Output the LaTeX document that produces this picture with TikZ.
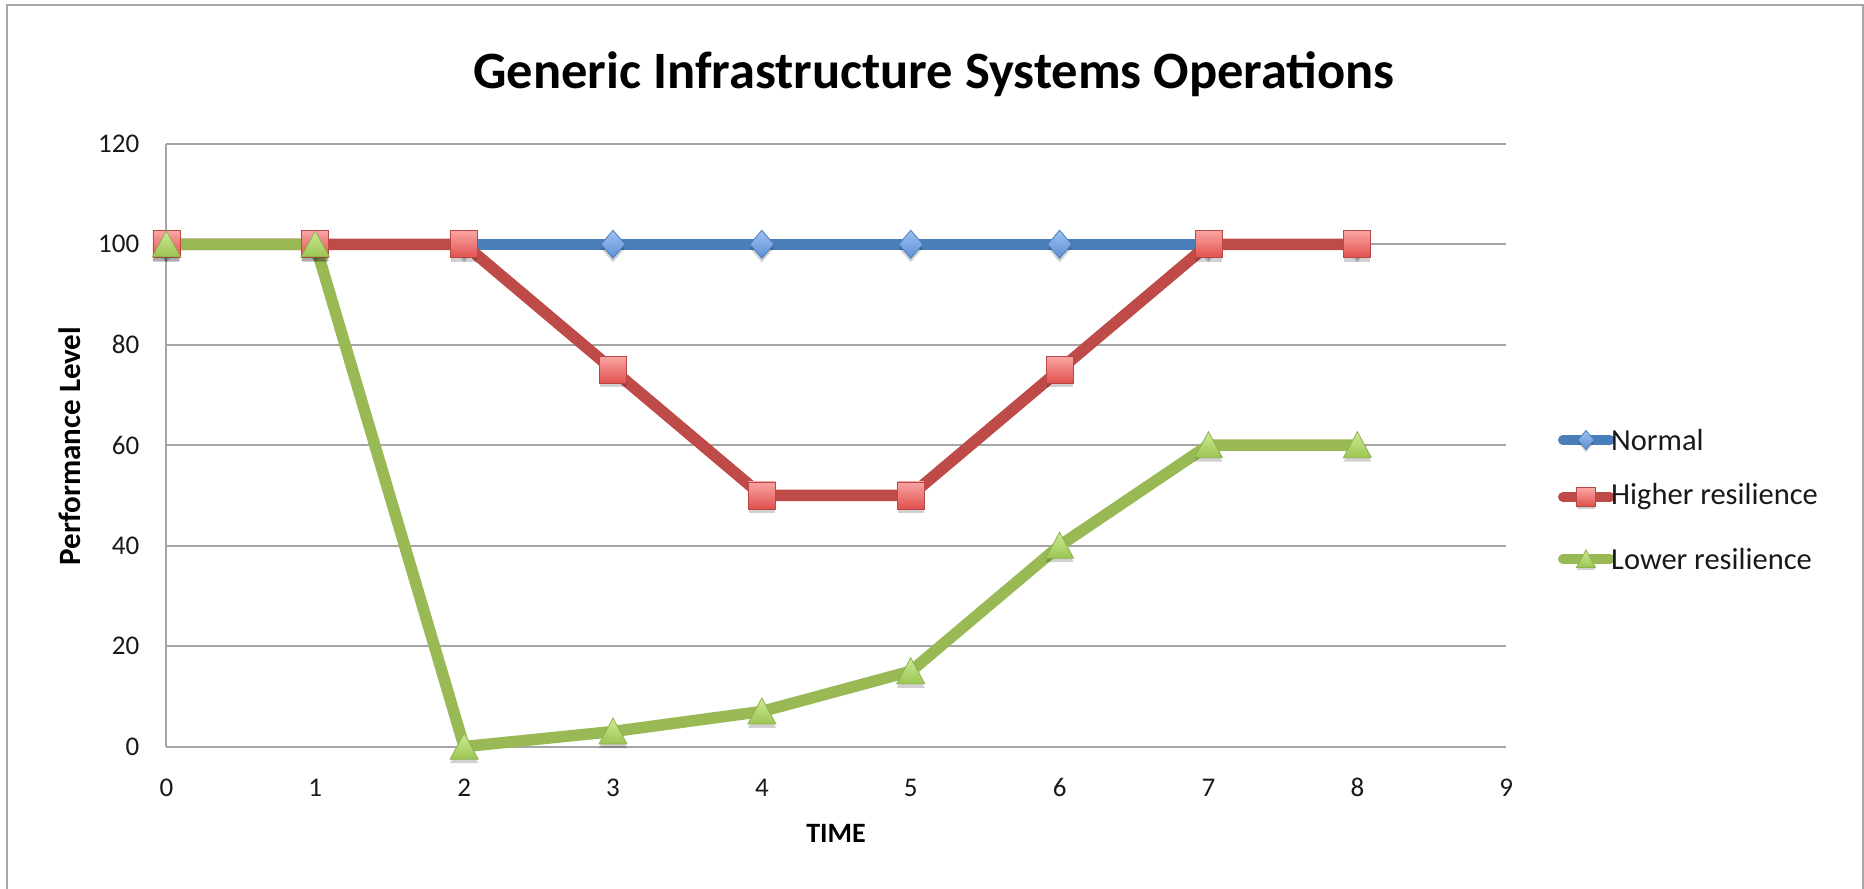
\documentclass[tikz,border=0pt]{standalone}
\usepackage{fontspec}
\setmainfont{Carlito}
\definecolor{blueL}{HTML}{4A7EBB}
\definecolor{redL}{HTML}{BE4B48}
\definecolor{greenL}{HTML}{98B954}
\definecolor{redT}{HTML}{F9A5A3}
\definecolor{redB}{HTML}{E0504D}
\definecolor{redE}{HTML}{B94745}
\definecolor{grnT}{HTML}{CDEA96}
\definecolor{grnB}{HTML}{9CC552}
\definecolor{grnE}{HTML}{8DB24E}
\definecolor{bluT}{HTML}{9DC1F0}
\definecolor{bluB}{HTML}{5E8FD6}
\definecolor{bluE}{HTML}{4A7EBB}
\definecolor{gridc}{HTML}{A5A5A5}
\definecolor{framec}{HTML}{A8A8A8}
\tikzset{
  gridline/.style={gridc, line width=2pt},
  serline/.style={line width=11.5pt, line join=round},
  legline/.style={line width=10pt, line cap=round},
  ticklab/.style={font=\fontsize{27}{30}\selectfont, text=black!90},
  axlab/.style={font=\fontsize{28}{32}\selectfont\bfseries},
  legtext/.style={font=\fontsize{30.5}{34}\selectfont, text=black!90, anchor=west, inner sep=0pt},
  sqmark/.pic={
    \fill[black,opacity=.18] (-13pt,-17.5pt) rectangle (13pt,9.5pt);
    \draw[redE,line width=0.8pt,top color=redT,bottom color=redB] (-13.5pt,-13.5pt) rectangle (13.5pt,13.5pt);},
  dmmark/.pic={
    \fill[black,opacity=.18] (0pt,10pt)--(12pt,-4pt)--(0pt,-18pt)--(-12pt,-4pt)--cycle;
    \draw[bluE,line width=0.8pt,top color=bluT,bottom color=bluB] (0pt,14pt)--(12pt,0pt)--(0pt,-14pt)--(-12pt,0pt)--cycle;},
  trmark/.pic={
    \fill[black,opacity=.18] (0pt,9.5pt)--(14pt,-16.5pt)--(-14pt,-16.5pt)--cycle;
    \draw[grnE,line width=0.8pt,top color=grnT,bottom color=grnB] (0pt,13.5pt)--(14pt,-12.5pt)--(-14pt,-12.5pt)--cycle;}
}
\begin{document}
\begin{tikzpicture}[x=1pt,y=-1pt]
\useasboundingbox (0,0) rectangle (1864,889);
\fill[white] (0,0) rectangle (1864,889);
% outer frame
\draw[framec, line width=2.5pt] (7,889) -- (7,5) -- (1863,5) -- (1863,889);
% title
\node[font=\fontsize{52.5}{60}\selectfont\bfseries] (title) at (934,74) {Generic Infrastructure Systems Operations};
% axis titles
\node[axlab, rotate=90, font=\fontsize{31}{34}\selectfont\bfseries] (ylab) at (70,446) {Performance Level};
\node[axlab] (xlab) at (836,833) {TIME};

\begin{scope}[shift={(166.4,746.6)}, x=148.87pt, y=5.0233pt]
  % gridlines
  \foreach \v in {0,20,...,120} {
    \draw[gridline] (0,\v) -- (9,\v);
    \node[ticklab, anchor=east, inner sep=0pt] (yt\v) at ([xshift=-27pt]0,\v) {\v};
  }
  \draw[gridline] (0,0) -- (0,120);
  \foreach \i in {0,...,9} {
    \node[ticklab] (xt\i) at ([yshift=-41pt]\i,0) {\i};
  }
  % series lines
  \draw[serline, blueL] (0,100) -- (1,100) -- (2,100) -- (3,100) -- (4,100) -- (5,100) -- (6,100) -- (7,100) -- (8,100);
  \draw[serline, redL] (0,100) -- (1,100) -- (2,100) -- (3,75) -- (4,50) -- (5,50) -- (6,75) -- (7,100) -- (8,100);
  \draw[serline, greenL] (0,100) -- (1,100) -- (2,0) -- (3,3) -- (4,7) -- (5,15) -- (6,40) -- (7,60) -- (8,60);
  % markers
  \foreach \i in {0,...,8} \pic at (\i,100) {dmmark};
  \foreach \i/\v in {0/100,1/100,2/100,3/75,4/50,5/50,6/75,7/100,8/100} \pic at (\i,\v) {sqmark};
  \foreach \i/\v in {0/100,1/100,2/0,3/3,4/7,5/15,6/40,7/60,8/60} \pic at (\i,\v) {trmark};
\end{scope}

% legend
\draw[legline, blueL] (1563,440) -- (1610,440);
\pic[scale=.68] at (1586,440) {dmmark};
\node[legtext] (lgn) at (1611,440) {Normal};
\draw[legline, redL] (1563,497) -- (1610,497);
\pic[scale=.68] at (1586,497) {sqmark};
\node[legtext] (lgh) at (1611,497) {Higher resilience};
\draw[legline, greenL] (1563,559) -- (1610,559);
\pic[scale=.68] at (1586,559) {trmark};
\node[legtext] (lgl) at (1611,559) {Lower resilience};
\end{tikzpicture}
\end{document}
